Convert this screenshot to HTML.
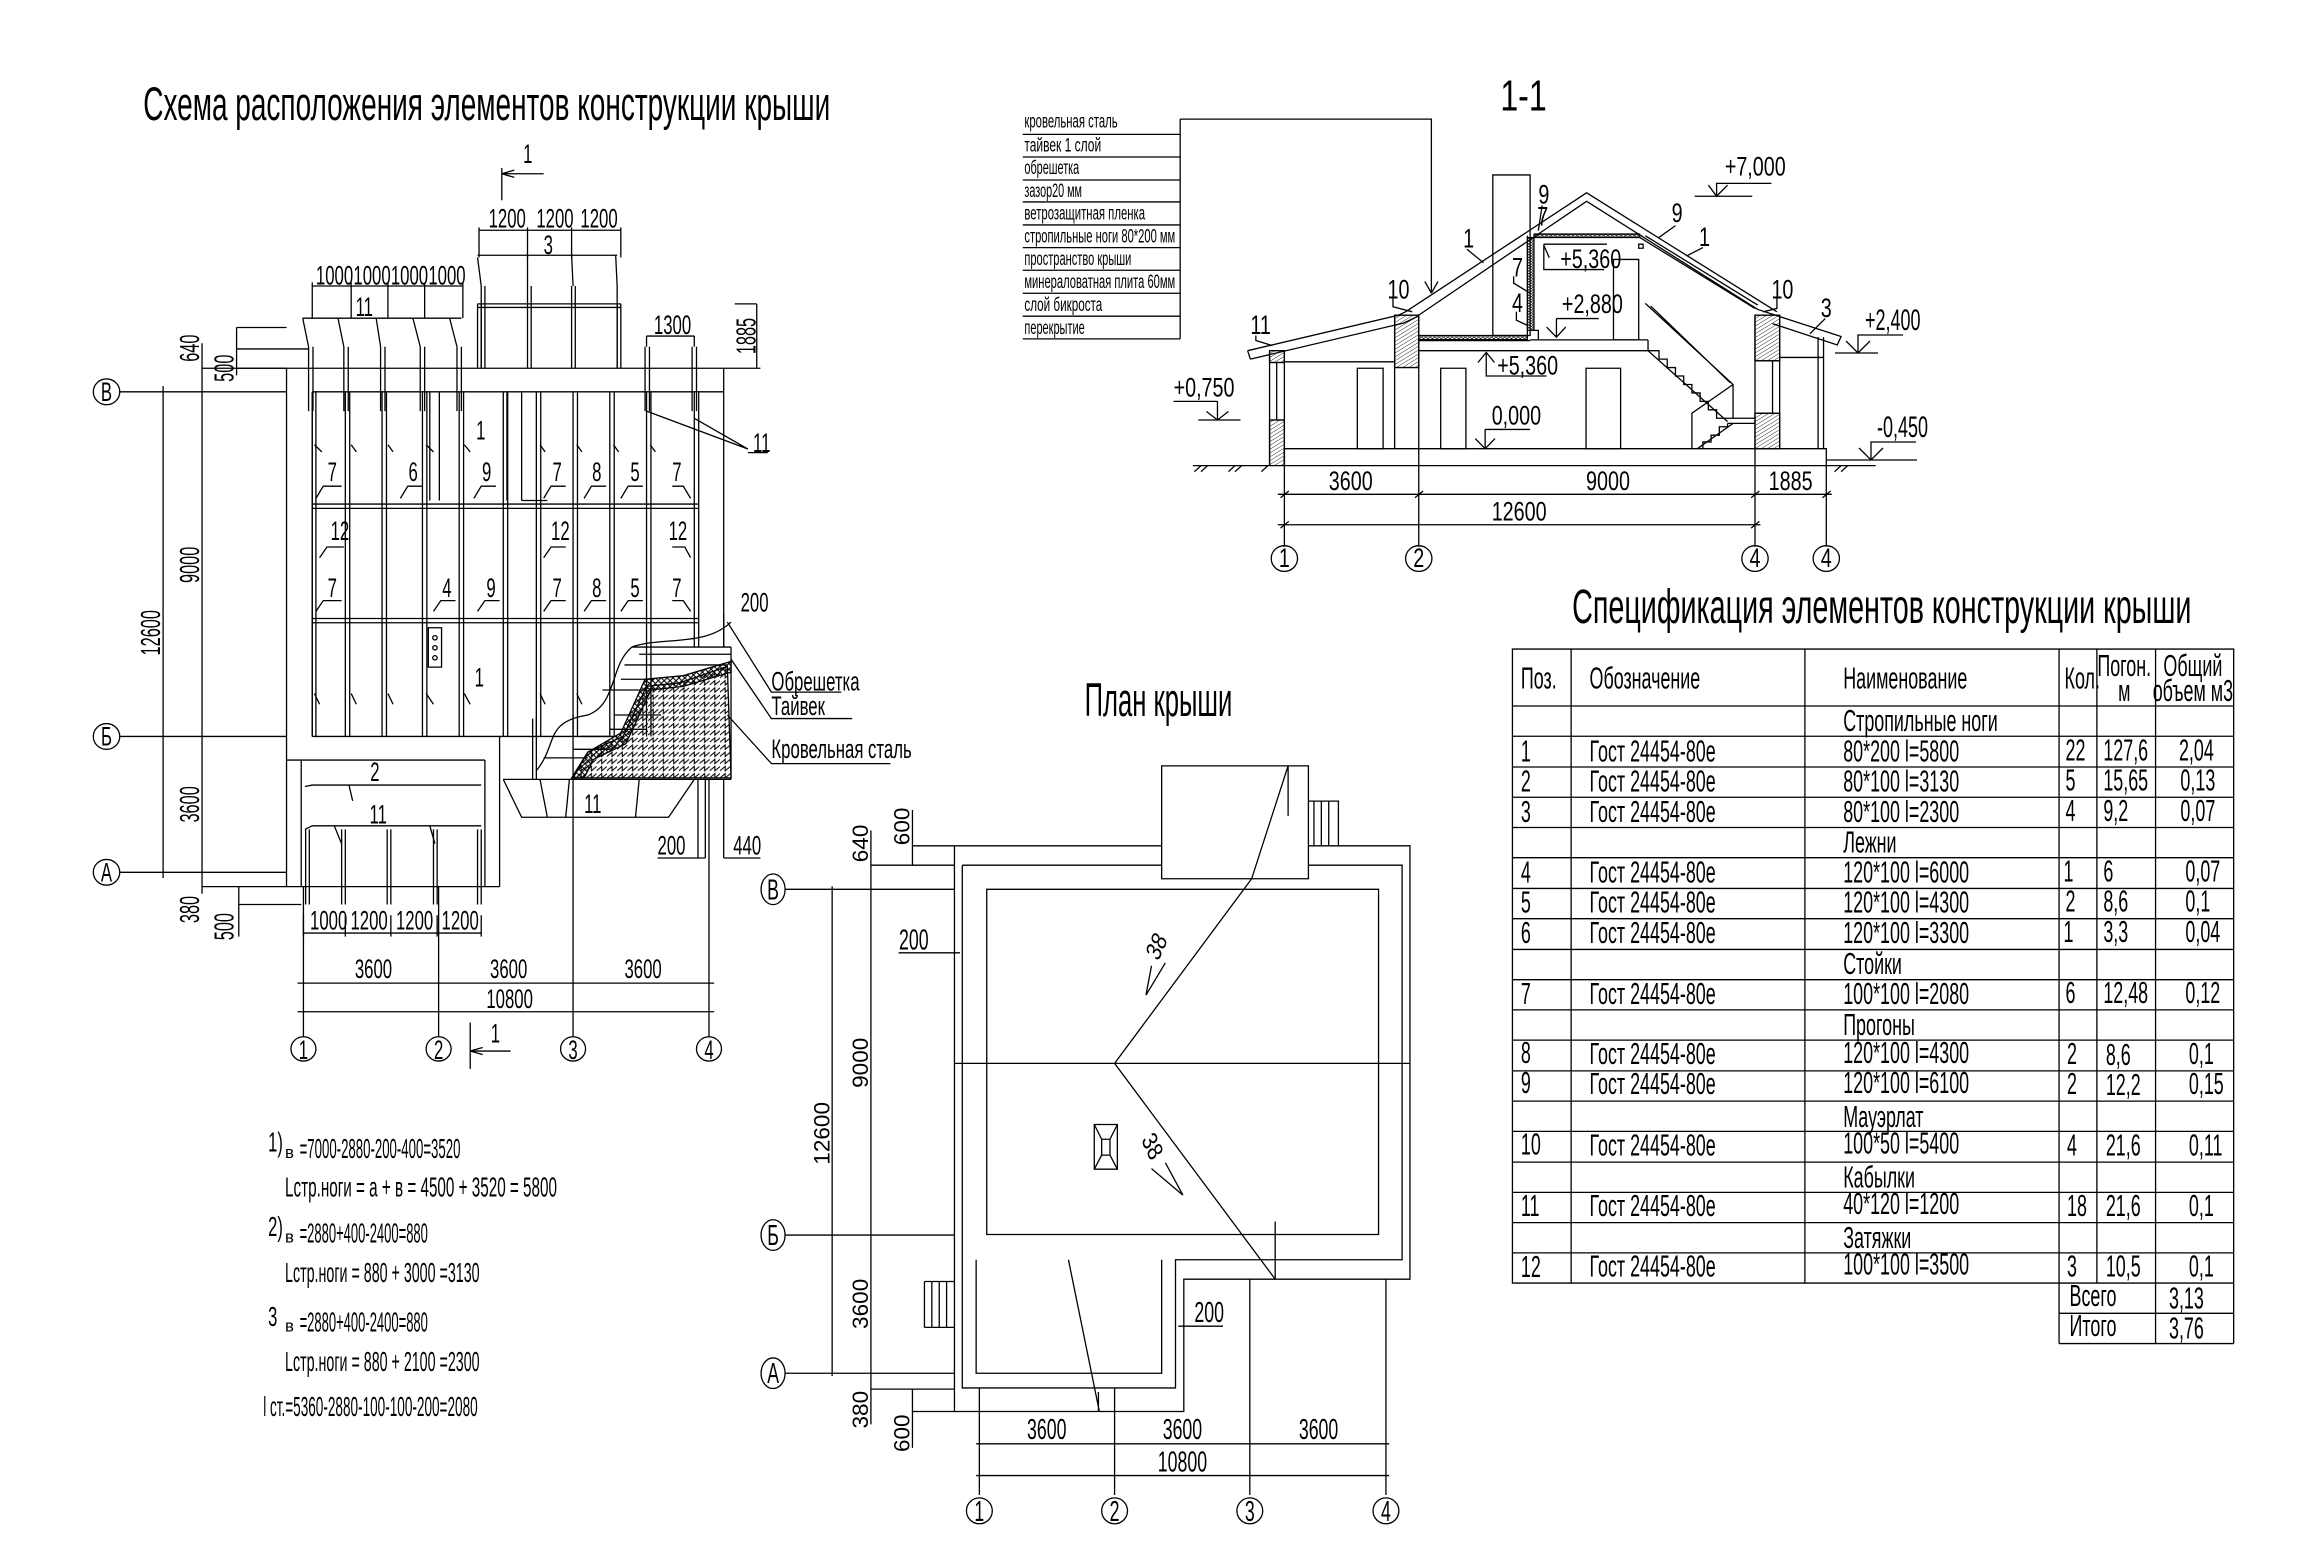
<!DOCTYPE html>
<html><head><meta charset="utf-8"><style>
html,body{margin:0;padding:0;background:#fff;}
svg{display:block;}
svg *{vector-effect:non-scaling-stroke;}
text{font-family:"Liberation Sans Narrow","Liberation Sans","DejaVu Sans",sans-serif;fill:#000;stroke:none;}
.q4{transform:scaleX(.45);transform-box:fill-box;transform-origin:left center;}
.q4m{transform:scaleX(.45);transform-box:fill-box;transform-origin:center;}
.q6{transform:scaleX(.6);transform-box:fill-box;transform-origin:left center;}
.q6m{transform:scaleX(.6);transform-box:fill-box;transform-origin:center;}
.q8m{transform:scaleX(.8);transform-box:fill-box;transform-origin:center;}
g.l{fill:none;stroke:#000;stroke-width:1.3;}
</style></head><body>
<svg width="2304" height="1564" viewBox="0 0 2304 1564" xmlns="http://www.w3.org/2000/svg">
<defs>
<pattern id="hat" width="8" height="8" patternUnits="userSpaceOnUse" patternTransform="rotate(45)"><line x1="0" y1="0" x2="0" y2="8" stroke="#000" stroke-width="2"/></pattern>
<pattern id="zig" width="14" height="10" patternUnits="userSpaceOnUse"><path d="M0 8 L7 2 L7 8 L14 2" fill="none" stroke="#000" stroke-width="1.5"/></pattern>
<pattern id="xh" width="8" height="8" patternUnits="userSpaceOnUse"><path d="M0 0L8 8M8 0L0 8" stroke="#000" stroke-width="1.5"/></pattern>
</defs>

<!-- ============ LEFT SCHEME (zoom1 coords) ============ -->
<g transform="translate(0,0) scale(0.7347,0.715)">
<text x="195" y="168" font-size="66" textLength="935" lengthAdjust="spacingAndGlyphs">Схема расположения элементов конструкции крыши</text>
<g class="l">
<circle cx="145" cy="548" r="18"/><line x1="163" y1="548" x2="390" y2="548"/>
<circle cx="145" cy="1030" r="18"/><line x1="163" y1="1030" x2="390" y2="1030"/>
<circle cx="145" cy="1220" r="18"/><line x1="163" y1="1220" x2="390" y2="1220"/>
<line x1="222" y1="540" x2="222" y2="1228"/><line x1="275" y1="480" x2="275" y2="1250"/>
<line x1="275" y1="515" x2="390" y2="515"/><line x1="275" y1="1240" x2="410" y2="1240"/>
<line x1="322" y1="458" x2="390" y2="458"/><line x1="322" y1="488" x2="420" y2="488"/><line x1="322" y1="458" x2="322" y2="525"/>
<line x1="325" y1="1240" x2="325" y2="1310"/><line x1="325" y1="1265" x2="410" y2="1265"/>
<line x1="322" y1="515" x2="1035" y2="515"/>
<line x1="390" y1="515" x2="390" y2="1240"/>
<line x1="425" y1="548" x2="985" y2="548"/>
<line x1="985" y1="515" x2="985" y2="905"/>
<line x1="425" y1="548" x2="425" y2="1030"/>
<line x1="425" y1="1030" x2="830" y2="1030"/>
<line x1="390" y1="1063" x2="660" y2="1063"/>
<line x1="410" y1="1063" x2="410" y2="1240"/>
<line x1="660" y1="1063" x2="660" y2="1240"/>
<line x1="680" y1="1030" x2="680" y2="1240"/>
<line x1="410" y1="1240" x2="680" y2="1240"/>
<path d="M685 1090 L710 1143 L910 1143 L945 1090"/>
<line x1="685" y1="1090" x2="995" y2="1090"/>
<line x1="995" y1="905" x2="995" y2="1090"/>
<path d="M425 548V1030M430 548V1030M470 548V1030M476 548V1030M520 548V1030M526 548V1030M575 548V1030M581 548V1030M625 548V1030M631 548V1030M685 548V1030M691 548V1030M730 548V1030M736 548V1030M780 548V1030M786 548V1030M830 548V1030M836 548V1030M880 548V1030M886 548V1030M945 548V905M951 548V905"/>
<path d="M425 705H950M425 711H950M425 865H950M425 871H950"/>
<path d="M585 548V700M598 548V700M690 548V700M710 548V700M710 700H745"/>
<path d="M650 425H845M650 430H845M650 425V515M655 425V515M840 425V515M845 425V515"/>
<path d="M655 400V515M660 400V515M718 400V515M723 400V515M778 400V515M783 400V515M840 400V515"/>
<path d="M650 360L655 400M718 357L718 400M778 357L780 400M838 357L840 400M650 357H840"/>
<path d="M420 485V575M426 485V575M468 485V575M474 485V575M518 485V575M524 485V575M572 485V575M578 485V575M622 485V575M628 485V575"/>
<path d="M412 445L420 485M460 445L468 485M512 445L518 485M562 445L572 485M612 445L622 485M412 445H628"/>
<path d="M878 485V575M884 485V575M942 485V575M948 485V575"/>
<path d="M425 400H630M425 395V445M478 395V445M528 395V445M578 395V445M630 395V445"/>
<path d="M652 322H845M652 318V360M718 318V360M778 318V360M845 318V360"/>
<path d="M880 470H945M880 470V485M945 470V485M1030 425V515M1000 425H1030"/>
<path d="M880 575L1018 628M945 585L1018 628M1018 633H1045"/>
<path d="M683 235V280M683 243H740M683 243L700 238M683 243L700 248"/>
<path d="M640 1430V1495M640 1470H695M640 1470L657 1465M640 1470L657 1475"/>
<path d="M430 697L440 680H465M545 697L555 680H575M645 697L655 680H675M740 697L750 680H770M795 697L805 680H825M845 697L855 680H875M940 697L930 680H915"/>
<path d="M430 855L440 840H465M590 855L600 840H620M650 855L660 840H680M740 855L750 840H770M795 855L805 840H825M845 855L855 840H875M940 855L930 840H915"/>
<path d="M435 780L445 765H468M740 780L750 765H770M940 780L932 765H915"/>
<path d="M428 622L438 632M478 622L485 632M528 622L535 632M580 622L590 632M632 622L640 632M735 622L742 632M785 622L792 632M835 622L842 632M885 622L892 632"/>
<path d="M428 970L435 985M478 970L485 985M528 970L535 985M580 970L590 985M632 970L640 985M735 970L742 985M785 970L792 985"/>
<path d="M415 1100L425 1098H655M415 1160L425 1155H655M455 1155L465 1180M475 1098L480 1120M585 1155L592 1180"/>
<path d="M416 1160V1265M421 1160V1265M465 1160V1265M470 1160V1265M527 1160V1265M532 1160V1265M590 1160V1265M595 1160V1265M650 1160V1265M655 1160V1265"/>
<path d="M735 1090L745 1143M775 1090L770 1143M870 1090L865 1143M780 1000V1450"/>
<path d="M725 1005V1090M730 1005V1090"/>
<rect x="583" y="878" width="18" height="55"/>
<circle cx="592" cy="892" r="3"/><circle cx="592" cy="906" r="3"/><circle cx="592" cy="920" r="3"/>
<path d="M730 1078 C760 1040 740 1010 800 1000 C840 985 830 930 860 905 C900 890 960 905 995 870"/>
<path d="M835 1000H900M830 1020H880M780 1048H830M740 1060H800M790 1030H840M850 930H990M860 905H995M870 915H995M820 965H880M845 950H890"/>
<path d="M990 870L1050 968H1145M995 922L1050 1005H1160M990 1000L1050 1068H1212M985 905V860"/>
<path d="M950 1090V1200M960 1090V1200M985 1090V1200M895 1200H960M985 1200H1035"/>
<path d="M413 1305H655M413 1280V1310M470 1280V1310M532 1280V1310M595 1280V1310M655 1280V1310"/>
<path d="M413 1240V1450M597 1240V1450M965 1090V1450"/>
<path d="M405 1375H972M405 1415H972"/>
<circle cx="413" cy="1467" r="17"/><circle cx="597" cy="1467" r="17"/><circle cx="780" cy="1467" r="17"/><circle cx="965" cy="1467" r="17"/>
</g>
<polygon points="780,1088 800,1052 848,1030 880,960 925,955 990,932 995,1088" fill="url(#zig)" stroke="#000" stroke-width="1.3"/>
<polygon points="778,1088 800,1052 845,1025 878,950 930,945 995,925 995,940 930,960 886,965 852,1040 808,1062 795,1088" fill="url(#xh)" stroke="#000" stroke-width="1.3"/>
<g font-size="38">
<text x="145" y="561" class="q6m" text-anchor="middle">В</text>
<text x="145" y="1043" class="q6m" text-anchor="middle">Б</text>
<text x="145" y="1233" class="q6m" text-anchor="middle">А</text>
<text x="413" y="1481" class="q6m" text-anchor="middle">1</text>
<text x="597" y="1481" class="q6m" text-anchor="middle">2</text>
<text x="780" y="1481" class="q6m" text-anchor="middle">3</text>
<text x="965" y="1481" class="q6m" text-anchor="middle">4</text>
<text x="430" y="398" class="q6">1000</text><text x="481" y="398" class="q6">1000</text><text x="532" y="398" class="q6">1000</text><text x="583" y="398" class="q6">1000</text>
<text x="665" y="318" class="q6">1200</text><text x="730" y="318" class="q6">1200</text><text x="790" y="318" class="q6">1200</text>
<text x="740" y="355" class="q6">3</text><text x="484" y="442" class="q6">11</text>
<text x="890" y="467" class="q6">1300</text>
<text x="712" y="228" class="q6">1</text><text x="668" y="1458" class="q6">1</text>
<text x="1025" y="632" class="q6">11</text>
<text x="648" y="615" class="q6">1</text>
<text x="446" y="673" class="q6">7</text><text x="556" y="673" class="q6">6</text><text x="656" y="673" class="q6">9</text><text x="752" y="673" class="q6">7</text><text x="806" y="673" class="q6">8</text><text x="858" y="673" class="q6">5</text><text x="915" y="673" class="q6">7</text>
<text x="450" y="755" class="q6">12</text><text x="750" y="755" class="q6">12</text><text x="910" y="755" class="q6">12</text>
<text x="446" y="835" class="q6">7</text><text x="602" y="835" class="q6">4</text><text x="662" y="835" class="q6">9</text><text x="752" y="835" class="q6">7</text><text x="806" y="835" class="q6">8</text><text x="858" y="835" class="q6">5</text><text x="915" y="835" class="q6">7</text>
<text x="646" y="960" class="q6">1</text>
<text x="504" y="1092" class="q6">2</text><text x="503" y="1152" class="q6">11</text><text x="795" y="1137" class="q6">11</text>
<text x="1008" y="855" class="q6">200</text>
<text x="895" y="1195" class="q6">200</text><text x="998" y="1195" class="q6">440</text>
<text x="1050" y="966" class="q6">Обрешетка</text><text x="1050" y="1000" class="q6">Тайвек</text><text x="1050" y="1060" class="q6">Кровельная сталь</text>
<text x="422" y="1300" class="q6">1000</text><text x="477" y="1300" class="q6">1200</text><text x="539" y="1300" class="q6">1200</text><text x="601" y="1300" class="q6">1200</text>
<text x="483" y="1368" class="q6">3600</text><text x="667" y="1368" class="q6">3600</text><text x="850" y="1368" class="q6">3600</text>
<text x="662" y="1410" class="q6">10800</text>
<g transform="translate(218,885) rotate(-90)"><text x="0" y="0" text-anchor="middle" class="q6m">12600</text></g>
<g transform="translate(271,790) rotate(-90)"><text x="0" y="0" text-anchor="middle" class="q6m">9000</text></g>
<g transform="translate(271,1125) rotate(-90)"><text x="0" y="0" text-anchor="middle" class="q6m">3600</text></g>
<g transform="translate(271,487) rotate(-90)"><text x="0" y="0" text-anchor="middle" class="q6m">640</text></g>
<g transform="translate(271,1272) rotate(-90)"><text x="0" y="0" text-anchor="middle" class="q6m">380</text></g>
<g transform="translate(318,515) rotate(-90)"><text x="0" y="0" text-anchor="middle" class="q6m">500</text></g>
<g transform="translate(318,1296) rotate(-90)"><text x="0" y="0" text-anchor="middle" class="q6m">500</text></g>
<g transform="translate(1028,470) rotate(-90)"><text x="0" y="0" text-anchor="middle" class="q6m">1885</text></g>
</g>
</g>

<!-- ============ SECTION 1-1 (zoom3 coords) ============ -->
<g transform="translate(1020,60) scale(0.5485,0.338)">
<text x="918" y="150" font-size="130" text-anchor="middle" class="q4m">1-1</text>
<g class="l">
<path d="M5 220H292M5 287H292M5 355H292M5 420H292M5 488H292M5 555H292M5 622H292M5 690H292M5 758H292M5 825H292M292 175V825M292 175H750V690M750 690L738 655M750 690L762 655"/>
<path d="M703 745L1033 393L1380 745M725 757L1033 418L1345 738"/>
<path d="M415 860L690 755L703 745M420 885L700 778L727 757M415 860L420 885"/>
<path d="M1345 738L1497 818L1490 843L1372 780"/>
<path d="M1130 525L1340 735M1140 520L1345 725"/>
<path d="M455 860V1200M482 860V1200M455 895H482M455 1065H482M468 895V1065"/>
<path d="M482 893H683M683 755V1150M727 755V1150"/>
<path d="M1340 755V1150M1385 755V1150M1372 890V1045M1340 890H1385M1340 1045H1385M1385 880H1465M1455 820V1150M1465 820V1150"/>
<rect x="482" y="1150" width="988" height="50"/>
<path d="M315 1200H455M1470 1200H1560"/>
<path d="M318 1218L330 1200M330 1218L342 1200M380 1218L392 1200M392 1218L404 1200M440 1218L452 1200M1485 1218L1497 1200M1497 1218L1509 1200"/>
<path d="M727 860H1145M727 830H930M930 828H1145M727 815H925"/>
<rect x="862" y="340" width="68" height="475"/>
<path d="M925 520V828M937 520V800M937 515H1130M937 525H1130M932 800H945V828"/>
<rect x="1128" y="545" width="8" height="12"/>
<rect x="615" y="912" width="47" height="238"/><rect x="767" y="912" width="46" height="238"/><rect x="1032" y="912" width="63" height="238"/><rect x="1082" y="590" width="46" height="238"/>
<path d="M1145 828V860L1165 860V885H1180V910H1195V935H1210V960H1225V985H1240V1010H1255V1035H1270V1060H1290L1340 1060M1290 1075H1340M1290 1075V1085H1275V1110H1260V1130H1245V1150"/>
<path d="M1140 720L1300 960L1300 1060M1150 728L1295 955M1225 1150V1045L1300 960M1235 1150L1300 1075M1145 860L1290 1070"/>
<path d="M815 560L845 600M952 430L945 505M900 640V660L930 690M905 745V770L925 785M680 705V730L715 745M430 815V830L460 845M1195 490L1165 525M1245 555L1215 580M1380 705V735L1355 745M1468 765L1440 810"/>
<path d="M1230 403H1335M1270 403V365H1370M1255 370L1270 403L1290 370"/>
<path d="M955 545H1070M955 545V620H1065M955 548L965 585"/>
<path d="M978 765H1055M978 765V820M960 790L978 820L995 790"/>
<path d="M850 865V935H960M835 895L850 865L865 895"/>
<path d="M848 1093H930M848 1093V1150M830 1120L848 1150L866 1120"/>
<path d="M280 1010H360M360 1010V1065M325 1065H402M340 1040L360 1065L380 1040"/>
<path d="M482 1150V1440M727 1150V1440M1340 1150V1440M1470 1200V1440M470 1285H1480M470 1375H1350"/>
<path d="M475 1295L490 1275M720 1295L735 1275M1333 1295L1348 1275M1463 1295L1478 1275M475 1385L490 1365M1333 1385L1348 1365"/>
<ellipse cx="482" cy="1475" rx="24" ry="38"/><ellipse cx="727" cy="1475" rx="24" ry="38"/><ellipse cx="1340" cy="1475" rx="24" ry="38"/><ellipse cx="1470" cy="1475" rx="24" ry="38"/>
</g>
<rect x="683" y="755" width="44" height="155" fill="url(#hat)" stroke="#000" stroke-width="1.3"/>
<rect x="455" y="1065" width="27" height="135" fill="url(#hat)" stroke="#000" stroke-width="1.3"/>
<rect x="455" y="860" width="27" height="35" fill="url(#hat)" stroke="#000" stroke-width="1.3"/>
<rect x="1340" y="755" width="45" height="135" fill="url(#hat)" stroke="#000" stroke-width="1.3"/>
<rect x="1340" y="1045" width="45" height="105" fill="url(#hat)" stroke="#000" stroke-width="1.3"/>
<rect x="727" y="815" width="198" height="12" fill="url(#xh)" stroke="#000" stroke-width="1"/>
<rect x="925" y="525" width="12" height="275" fill="url(#xh)" stroke="#000" stroke-width="1"/>
<rect x="937" y="515" width="193" height="10" fill="url(#xh)" stroke="#000" stroke-width="1"/>
<g font-size="58">
<text x="8" y="200" textLength="170" lengthAdjust="spacingAndGlyphs">кровельная сталь</text>
<text x="8" y="270" textLength="140" lengthAdjust="spacingAndGlyphs">тайвек 1 слой</text>
<text x="8" y="337" textLength="100" lengthAdjust="spacingAndGlyphs">обрешетка</text>
<text x="8" y="405" textLength="105" lengthAdjust="spacingAndGlyphs">зазор20 мм</text>
<text x="8" y="472" textLength="220" lengthAdjust="spacingAndGlyphs">ветрозащитная пленка</text>
<text x="8" y="540" textLength="275" lengthAdjust="spacingAndGlyphs">стропильные ноги 80*200 мм</text>
<text x="8" y="607" textLength="195" lengthAdjust="spacingAndGlyphs">пространство крыши</text>
<text x="8" y="675" textLength="275" lengthAdjust="spacingAndGlyphs">минераловатная плита 60мм</text>
<text x="8" y="742" textLength="142" lengthAdjust="spacingAndGlyphs">слой бикроста</text>
<text x="8" y="810" textLength="110" lengthAdjust="spacingAndGlyphs">перекрытие</text>
</g>
<g font-size="80">
<text x="808" y="555" class="q4">1</text><text x="945" y="425" class="q4">9</text><text x="943" y="490" class="q4">7</text><text x="897" y="640" class="q4">7</text><text x="897" y="745" class="q4">4</text>
<text x="670" y="705" class="q4">10</text><text x="420" y="810" class="q4">11</text><text x="1188" y="480" class="q4">9</text><text x="1238" y="550" class="q4">1</text><text x="1370" y="705" class="q4">10</text><text x="1460" y="760" class="q4">3</text>
<text x="1285" y="342" class="q4">+7,000</text><text x="985" y="615" class="q4">+5,360</text><text x="988" y="748" class="q4">+2,880</text><text x="870" y="930" class="q4">+5,360</text><text x="860" y="1078" class="q4">0,000</text><text x="280" y="995" class="q4">+0,750</text>
<text x="603" y="1272" class="q4m" text-anchor="middle">3600</text><text x="1072" y="1272" class="q4m" text-anchor="middle">9000</text><text x="1405" y="1272" class="q4m" text-anchor="middle">1885</text><text x="910" y="1362" class="q4m" text-anchor="middle">12600</text>
<text x="482" y="1500" class="q4m" text-anchor="middle">1</text><text x="727" y="1500" class="q4m" text-anchor="middle">2</text><text x="1340" y="1500" class="q4m" text-anchor="middle">4</text><text x="1470" y="1500" class="q4m" text-anchor="middle">4</text>
</g>
</g>
<g class="l">
<path d="M1835 353H1878M1858 353V335H1903M1846 341L1858 353L1870 341"/>
<path d="M1827 460H1917M1871 460V442H1916M1859 448L1871 460L1883 448"/>
</g>
<text x="1865" y="330" font-size="30" class="q6">+2,400</text>
<text x="1877" y="437" font-size="30" class="q6">-0,450</text>

<!-- ============ PLAN (zoom4 coords) ============ -->
<g transform="translate(750,660) scale(0.4615,0.588)">
<text x="885" y="95" font-size="80" text-anchor="middle" textLength="320" lengthAdjust="spacingAndGlyphs">План крыши</text>
<g class="l">
<path d="M443 316H892"/><path d="M1210 316H1430V1053H940V1278H443V316"/>
<path d="M460 349H892"/><path d="M1210 349H1413V1020H922V1238H460V349"/>
<rect x="513" y="390" width="849" height="587"/>
<path d="M490 1020V1213H892V1020"/>
<rect x="892" y="180" width="318" height="192"/>
<path d="M1210 240H1275V316M1222 240V316M1238 240V316M1254 240V316"/>
<path d="M378 1057H443M378 1135H443M378 1057V1135M394 1057V1135M410 1057V1135M426 1057V1135"/>
<path d="M1166 180L1087 372L790 686L1138 1053M1166 180V265M1138 955V1053M443 686H1430M690 1020L757 1278M755 1245V1278"/>
<rect x="746" y="790" width="50" height="76"/>
<path d="M746 790L762 815V842L746 866M796 790L780 815V842L796 866M762 815H780M762 842H780"/>
<path d="M858 570L900 515M858 570L870 520M870 865L938 910M938 910L900 855"/>
<circle cx="50" cy="390" r="26"/><circle cx="50" cy="978" r="26"/><circle cx="50" cy="1213" r="26"/>
<path d="M76 390H443M76 978H443M76 1213H443M178 385V1218M262 290V1300M262 349H443M262 1240H443M352 255V350M352 316H443M352 1240V1340M352 1278H443"/>
<path d="M322 498H455M928 1133H1025"/>
<path d="M497 1238V1420M790 1238V1420M1083 1053V1420M1378 1053V1420M490 1333H1385M490 1387H1385"/>
</g>
<g fill="none" stroke="#000" stroke-width="1.3">
<ellipse cx="497" cy="1447" rx="28" ry="22"/><ellipse cx="790" cy="1447" rx="28" ry="22"/><ellipse cx="1083" cy="1447" rx="28" ry="22"/><ellipse cx="1378" cy="1447" rx="28" ry="22"/>
</g>
<g font-size="48">
<text x="50" y="407" class="q8m" text-anchor="middle">В</text><text x="50" y="995" class="q8m" text-anchor="middle">Б</text><text x="50" y="1230" class="q8m" text-anchor="middle">А</text>
<text x="497" y="1464" class="q8m" text-anchor="middle">1</text><text x="790" y="1464" class="q8m" text-anchor="middle">2</text><text x="1083" y="1464" class="q8m" text-anchor="middle">3</text><text x="1378" y="1464" class="q8m" text-anchor="middle">4</text>
<text x="643" y="1325" class="q8m" text-anchor="middle">3600</text><text x="937" y="1325" class="q8m" text-anchor="middle">3600</text><text x="1232" y="1325" class="q8m" text-anchor="middle">3600</text><text x="937" y="1380" class="q8m" text-anchor="middle">10800</text>
<text x="355" y="492" class="q8m" text-anchor="middle">200</text><text x="995" y="1126" class="q8m" text-anchor="middle">200</text>
<g transform="translate(895,495) rotate(-60)"><text x="0" y="0" class="q8m" text-anchor="middle">38</text></g>
<g transform="translate(858,835) rotate(60)"><text x="0" y="0" class="q8m" text-anchor="middle">38</text></g>
<g transform="translate(172,805) rotate(-90)"><text x="0" y="0" class="q8m" text-anchor="middle">12600</text></g>
<g transform="translate(256,685) rotate(-90)"><text x="0" y="0" class="q8m" text-anchor="middle">9000</text></g>
<g transform="translate(256,1095) rotate(-90)"><text x="0" y="0" class="q8m" text-anchor="middle">3600</text></g>
<g transform="translate(256,312) rotate(-90)"><text x="0" y="0" class="q8m" text-anchor="middle">640</text></g>
<g transform="translate(256,1275) rotate(-90)"><text x="0" y="0" class="q8m" text-anchor="middle">380</text></g>
<g transform="translate(346,283) rotate(-90)"><text x="0" y="0" class="q8m" text-anchor="middle">600</text></g>
<g transform="translate(346,1315) rotate(-90)"><text x="0" y="0" class="q8m" text-anchor="middle">600</text></g>
</g>
</g>

<!-- ============ SPEC TABLE (zoom2 coords) ============ -->
<g transform="translate(1500,580) scale(0.4974,0.504)">
<text x="145" y="85" font-size="96" textLength="1245" lengthAdjust="spacingAndGlyphs">Спецификация элементов конструкции крыши</text>
<g class="l">
<rect x="25" y="137" width="1450" height="1258"/>
<path d="M143 137V1395M613 137V1395M1124 137V1515M1200 137V1395M1318 137V1515M1475 1395V1515M1124 1515H1475M1124 1455H1475"/>
<path d="M25 250H1475M25 310H1475M25 371H1475M25 431H1475M25 491H1475M25 551H1475M25 612H1475M25 672H1475M25 733H1475M25 793H1475M25 853H1475M25 913H1475M25 974H1475M25 1034H1475M25 1094H1475M25 1155H1475M25 1215H1475M25 1275H1475M25 1335H1475"/>
</g>
<g font-size="60">
<text x="42" y="215" class="q6">Поз.</text><text x="180" y="215" class="q6">Обозначение</text><text x="690" y="215" class="q6">Наименование</text><text x="1135" y="215" class="q6">Кол.</text>
<text x="1255" y="190" class="q6m" text-anchor="middle">Погон.</text><text x="1255" y="240" class="q6m" text-anchor="middle">м</text>
<text x="1393" y="190" class="q6m" text-anchor="middle">Общий</text><text x="1393" y="240" class="q6m" text-anchor="middle">объем м3</text>
<text x="690" y="300" class="q6">Стропильные ноги</text>
<text x="42" y="360" class="q6">1</text><text x="180" y="360" class="q6">Гост 24454-80е</text><text x="690" y="360" class="q6">80*200   l=5800</text><text x="1137" y="358" class="q6">22</text><text x="1213" y="358" class="q6">127,6</text><text x="1365" y="358" class="q6">2,04</text>
<text x="42" y="420" class="q6">2</text><text x="180" y="420" class="q6">Гост 24454-80е</text><text x="690" y="420" class="q6">80*100   l=3130</text><text x="1137" y="418" class="q6">5</text><text x="1213" y="418" class="q6">15,65</text><text x="1368" y="418" class="q6">0,13</text>
<text x="42" y="480" class="q6">3</text><text x="180" y="480" class="q6">Гост 24454-80е</text><text x="690" y="480" class="q6">80*100   l=2300</text><text x="1137" y="478" class="q6">4</text><text x="1213" y="478" class="q6">9,2</text><text x="1368" y="478" class="q6">0,07</text>
<text x="690" y="541" class="q6">Лежни</text>
<text x="42" y="600" class="q6">4</text><text x="180" y="600" class="q6">Гост 24454-80е</text><text x="690" y="600" class="q6">120*100   l=6000</text><text x="1133" y="598" class="q6">1</text><text x="1213" y="598" class="q6">6</text><text x="1378" y="598" class="q6">0,07</text>
<text x="42" y="660" class="q6">5</text><text x="180" y="660" class="q6">Гост 24454-80е</text><text x="690" y="660" class="q6">120*100   l=4300</text><text x="1137" y="658" class="q6">2</text><text x="1213" y="658" class="q6">8,6</text><text x="1378" y="658" class="q6">0,1</text>
<text x="42" y="720" class="q6">6</text><text x="180" y="720" class="q6">Гост 24454-80е</text><text x="690" y="720" class="q6">120*100   l=3300</text><text x="1133" y="718" class="q6">1</text><text x="1213" y="718" class="q6">3,3</text><text x="1378" y="718" class="q6">0,04</text>
<text x="690" y="782" class="q6">Стойки</text>
<text x="42" y="841" class="q6">7</text><text x="180" y="841" class="q6">Гост 24454-80е</text><text x="690" y="841" class="q6">100*100   l=2080</text><text x="1137" y="839" class="q6">6</text><text x="1213" y="839" class="q6">12,48</text><text x="1378" y="839" class="q6">0,12</text>
<text x="690" y="903" class="q6">Прогоны</text>
<text x="42" y="958" class="q6">8</text><text x="180" y="960" class="q6">Гост 24454-80е</text><text x="690" y="958" class="q6">120*100   l=4300</text><text x="1140" y="960" class="q6">2</text><text x="1218" y="962" class="q6">8,6</text><text x="1385" y="960" class="q6">0,1</text>
<text x="42" y="1018" class="q6">9</text><text x="180" y="1020" class="q6">Гост 24454-80е</text><text x="690" y="1018" class="q6">120*100   l=6100</text><text x="1140" y="1020" class="q6">2</text><text x="1218" y="1022" class="q6">12,2</text><text x="1385" y="1020" class="q6">0,15</text>
<text x="690" y="1085" class="q6">Мауэрлат</text>
<text x="42" y="1140" class="q6">10</text><text x="180" y="1142" class="q6">Гост 24454-80е</text><text x="690" y="1138" class="q6">100*50   l=5400</text><text x="1140" y="1142" class="q6">4</text><text x="1218" y="1142" class="q6">21,6</text><text x="1385" y="1142" class="q6">0,11</text>
<text x="690" y="1205" class="q6">Кабылки</text>
<text x="42" y="1262" class="q6">11</text><text x="180" y="1262" class="q6">Гост 24454-80е</text><text x="690" y="1258" class="q6">40*120   l=1200</text><text x="1140" y="1262" class="q6">18</text><text x="1218" y="1262" class="q6">21,6</text><text x="1385" y="1262" class="q6">0,1</text>
<text x="690" y="1325" class="q6">Затяжки</text>
<text x="42" y="1383" class="q6">12</text><text x="180" y="1382" class="q6">Гост 24454-80е</text><text x="690" y="1378" class="q6">100*100   l=3500</text><text x="1140" y="1382" class="q6">3</text><text x="1218" y="1382" class="q6">10,5</text><text x="1385" y="1382" class="q6">0,1</text>
<text x="1145" y="1440" class="q6">Всего</text><text x="1345" y="1445" class="q6">3,13</text>
<text x="1145" y="1500" class="q6">Итого</text><text x="1345" y="1505" class="q6">3,76</text>
</g>
</g>

<!-- ============ NOTES (zoom6 coords) ============ -->
<g transform="translate(200,1100) scale(0.383)" font-size="72">
<text x="178" y="135" class="q6">1)</text><text x="222" y="152" font-size="44">в</text><text x="260" y="152" textLength="420" lengthAdjust="spacingAndGlyphs">=7000-2880-200-400=3520</text>
<text x="222" y="252" textLength="710" lengthAdjust="spacingAndGlyphs">Lстр.ноги = a + в = 4500 + 3520 = 5800</text>
<text x="178" y="355" class="q6">2)</text><text x="222" y="372" font-size="44">в</text><text x="260" y="372" textLength="335" lengthAdjust="spacingAndGlyphs">=2880+400-2400=880</text>
<text x="222" y="475" textLength="508" lengthAdjust="spacingAndGlyphs">Lстр.ноги = 880 + 3000 =3130</text>
<text x="178" y="590" class="q6">3</text><text x="222" y="605" font-size="44">в</text><text x="260" y="605" textLength="335" lengthAdjust="spacingAndGlyphs">=2880+400-2400=880</text>
<text x="222" y="708" textLength="508" lengthAdjust="spacingAndGlyphs">Lстр.ноги = 880 + 2100 =2300</text>
<text x="165" y="825" textLength="560" lengthAdjust="spacingAndGlyphs">l ст.=5360-2880-100-100-200=2080</text>
</g>
</svg>
</body></html>
